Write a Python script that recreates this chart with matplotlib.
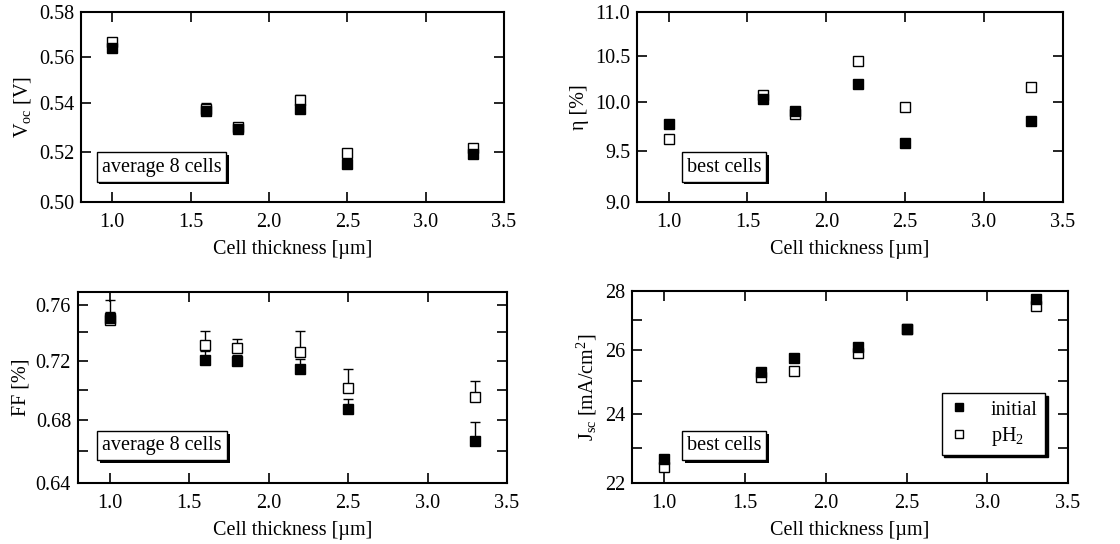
import numpy as np
import matplotlib
matplotlib.use("Agg")
import matplotlib.pyplot as plt
from matplotlib.ticker import FixedLocator, FixedFormatter, NullLocator
import matplotlib.patheffects as pe

plt.rcParams['font.family'] = ['Liberation Serif', 'DejaVu Serif']
plt.rcParams['mathtext.fontset'] = 'custom'
plt.rcParams['mathtext.rm'] = 'Liberation Serif'
plt.rcParams['mathtext.it'] = 'Liberation Serif:italic'
plt.rcParams['font.size'] = 14.5

FS = 14.5

thickness = [1.0, 1.6, 1.8, 2.2, 2.5, 3.3]

voc_initial = [0.564, 0.537, 0.5293, 0.5376, 0.5151, 0.5189]
voc_initial_err = [0.001, 0.003, 0.001, 0.001, 0.0005, 0.0005]
voc_ph2 = [0.5665, 0.5375, 0.530, 0.5414, 0.5194, 0.5217]
voc_ph2_err = [0.001, 0.001, 0.0005, 0.002, 0.001, 0.001]

eta_initial = [9.776, 10.035, 9.911, 10.192, 9.581, 9.800]
eta_ph2 = [9.615, 10.077, 9.876, 10.44, 9.947, 10.166]

ff_initial = [0.7502, 0.7208, 0.7199, 0.7145, 0.6874, 0.6662]
ff_initial_err = [0.0044, 0.006, 0.004, 0.0068, 0.0064, 0.0126]
ff_ph2 = [0.749, 0.7313, 0.7288, 0.7264, 0.7017, 0.6954]
ff_ph2_err = [0.0147, 0.0096, 0.0063, 0.0145, 0.013, 0.0106]

jsc_initial = [22.675, 25.298, 25.757, 26.105, 26.71, 27.72]
jsc_ph2 = [22.457, 25.13, 25.33, 25.90, 26.70, 27.48]

xticks = [1.0, 1.5, 2.0, 2.5, 3.0, 3.5]
xlabel = "Cell thickness [\u00b5m]"

fig = plt.figure(figsize=(11.2, 5.44), dpi=100)
axTL = fig.add_axes([0.0723, 0.6287, 0.45 - 0.0723, 0.978 - 0.6287])
axTR = fig.add_axes([0.5688, 0.6287, 0.949 - 0.5688, 0.978 - 0.6287])
axBL = fig.add_axes([0.0696, 0.1121, 0.4527 - 0.0696, 0.4632 - 0.1121])
axBR = fig.add_axes([0.5643, 0.1121, 0.9536 - 0.5643, 0.465 - 0.1121])


def style(ax, ylim, yticks, ylabels):
    ax.set_yscale('log')
    ax.set_xlim(0.8, 3.5)
    ax.set_ylim(*ylim)
    ax.xaxis.set_major_locator(FixedLocator(xticks))
    ax.set_xticklabels([f"{v:.1f}" for v in xticks])
    ax.yaxis.set_major_locator(FixedLocator(yticks))
    ax.yaxis.set_major_formatter(FixedFormatter(ylabels))
    ax.yaxis.set_minor_locator(NullLocator())
    ax.tick_params(direction='in', length=7, width=1.2, top=True, right=True,
                   labelsize=FS)
    ax.tick_params(axis='x', pad=8)
    ax.tick_params(axis='y', pad=5)
    for s in ax.spines.values():
        s.set_linewidth(1.5)
    ax.set_xlabel(xlabel, fontsize=FS, labelpad=6)


def label_box(ax, x, y, txt):
    t = ax.text(x, y, txt, transform=ax.transAxes, ha='center', va='center',
                fontsize=FS,
                bbox=dict(boxstyle='square,pad=0.25', fc='white', ec='black', lw=1.0))
    t.get_bbox_patch().set_path_effects([
        pe.SimplePatchShadow(offset=(2, -2), shadow_rgbFace='black', alpha=1.0),
        pe.Normal()])


def plot_pair(ax, yi, yp, ei=None, ep=None):
    if ep is not None:
        ax.errorbar(thickness, yp, yerr=[np.zeros(len(ep)), ep], fmt='none',
                    ecolor='black', elinewidth=1.0, capsize=3.5, capthick=1.0, zorder=2)
    if ei is not None:
        ax.errorbar(thickness, yi, yerr=[np.zeros(len(ei)), ei], fmt='none',
                    ecolor='black', elinewidth=1.0, capsize=3.5, capthick=1.0, zorder=2)
    ax.plot(thickness, yi, ls='none', marker='s', ms=7, mfc='black', mec='black',
            label='initial', zorder=4)
    ax.plot(thickness, yp, ls='none', marker='s', ms=6.8, mfc='white', mec='black',
            mew=1.0, label='pH$_2$', zorder=3)


# Voc
plot_pair(axTL, voc_initial, voc_ph2, voc_initial_err, voc_ph2_err)
style(axTL, (0.50, 0.58), [0.50, 0.52, 0.54, 0.56, 0.58],
      ['0.50', '0.52', '0.54', '0.56', '0.58'])
axTL.set_ylabel("V$_\\mathrm{oc}$ [V]", fontsize=FS)
label_box(axTL, 0.19, 0.184, "average 8 cells")

# eta
plot_pair(axTR, eta_initial, eta_ph2)
style(axTR, (9.0, 11.0), [9.0, 9.5, 10.0, 10.5, 11.0],
      ['9.0', '9.5', '10.0', '10.5', '11.0'])
axTR.set_ylabel("\u03b7 [%]", fontsize=FS)
label_box(axTR, 0.204, 0.184, "best cells")

# FF
plot_pair(axBL, ff_initial, ff_ph2, ff_initial_err, ff_ph2_err)
style(axBL, (0.64, 0.7694), [0.64, 0.66, 0.68, 0.70, 0.72, 0.74, 0.76],
      ['0.64', '', '0.68', '', '0.72', '', '0.76'])
axBL.set_ylabel("FF [%]", fontsize=FS)
label_box(axBL, 0.196, 0.195, "average 8 cells")

# Jsc
plot_pair(axBR, jsc_initial, jsc_ph2)
style(axBR, (22, 28), [22, 23, 24, 25, 26, 27, 28],
      ['22', '', '24', '', '26', '', '28'])
axBR.set_ylabel("J$_\\mathrm{sc}$ [mA/cm$^2$]", fontsize=FS)
label_box(axBR, 0.211, 0.194, "best cells")
leg = axBR.legend(loc='lower right', bbox_to_anchor=(0.947, 0.148), frameon=True,
                  fancybox=False, edgecolor='black', framealpha=1.0,
                  shadow={'color': 'black', 'alpha': 1.0}, markerscale=0.75,
                  fontsize=FS, handlelength=1.0, handletextpad=1.1,
                  borderpad=0.35, labelspacing=0.25, borderaxespad=0)
leg.get_frame().set_linewidth(1.0)

fig.savefig("out.png", dpi=100)
